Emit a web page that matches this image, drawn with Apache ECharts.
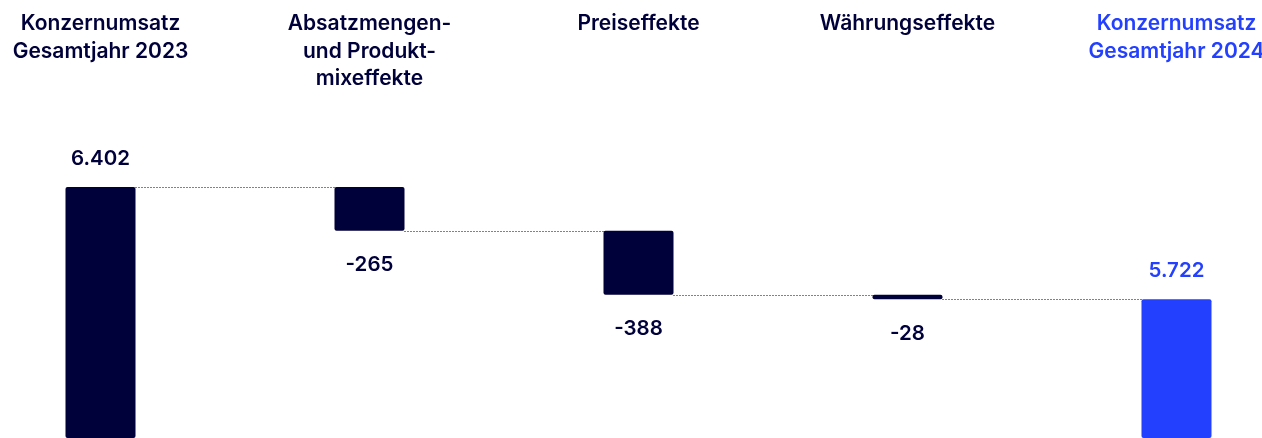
<!DOCTYPE html>
<html>
<head>
<meta charset="utf-8">
<script src="https://cdn.jsdelivr.net/npm/echarts@6/dist/echarts.min.js"></script>
<style>
  html, body { margin: 0; padding: 0; background: #fff; }
  #chart { width: 1262px; height: 438px; }
</style>
</head>
<body>
<div id="chart"></div>
<script>
// Konzernumsatz Brücke 2023 -> 2024 (Mio. EUR)
const categories = [
  'Konzernumsatz\nGesamtjahr 2023',
  'Absatzmengen-\nund Produkt-\nmixeffekte',
  'Preiseffekte',
  'Währungseffekte',
  'Konzernumsatz\nGesamtjahr 2024'
];
const values = [6402, -265, -388, -28, 5722];
const isTotal = [true, false, false, false, true];

const NAVY = '#00003a';
const BLUE = '#2340ff';
const FONT = 'Inter, "Liberation Sans", sans-serif';

// unsichtbare Basis + sichtbarer Teil, Stufen fürs Wasserfall
const base = [], shown = [], levels = [];
let run = 0;
values.forEach((v, i) => {
  if (isTotal[i]) {
    base.push(0); shown.push(v); run = v;
  } else {
    base.push(run + v); shown.push(-v); run = run + v;
  }
  levels.push(run);
});

function fmt(v) {
  const s = Math.abs(v).toString().replace(/\B(?=(\d{3})+(?!\d))/g, '.');
  return (v < 0 ? '-' : '') + s;
}

const chart = echarts.init(document.getElementById('chart'));
chart.setOption({
  animation: false,
  backgroundColor: '#fff',
  grid: { left: -34, right: -49, top: 100, bottom: 0, outerBoundsMode: 'none', containLabel: false },
  xAxis: {
    type: 'category',
    position: 'top',
    data: categories,
    axisLine: { show: false },
    axisTick: { show: false },
    axisLabel: {
      margin: 90,
      verticalAlign: 'top',
      fontFamily: FONT,
      fontWeight: 600,
      fontSize: 21,
      lineHeight: 27.5,
      color: (val, idx) => idx === categories.length - 1 ? BLUE : NAVY
    }
  },
  yAxis: {
    type: 'value',
    min: 4880,
    max: 6930,
    show: false,
    splitLine: { show: false }
  },
  series: [
    {
      type: 'bar',
      stack: 'w',
      silent: true,
      barWidth: 70,
      itemStyle: { color: 'transparent' },
      data: base
    },
    {
      type: 'bar',
      stack: 'w',
      barWidth: 70,
      data: shown.map((v, i) => ({
        value: v,
        itemStyle: {
          color: i === values.length - 1 ? BLUE : NAVY,
          borderRadius: 2
        },
        label: {
          show: true,
          position: isTotal[i] ? 'top' : 'bottom',
          distance: isTotal[i] ? 18 : 24,
          formatter: fmt(values[i]),
          fontFamily: FONT,
          fontWeight: 600,
          fontSize: 20.5,
          color: i === values.length - 1 ? BLUE : NAVY
        }
      }))
    },
    {
      // gepunktete Verbindungslinien zwischen den Balken
      type: 'custom',
      silent: true,
      data: levels.slice(0, -1).map((lv, i) => [i, lv]),
      renderItem: function (params, api) {
        const i = api.value(0);
        const lv = api.value(1);
        const w = api.size([1, 0])[0];
        const p = api.coord([i, lv]);
        const y = Math.round(p[1]) + 0.5;
        return {
          type: 'line',
          shape: { x1: p[0] + 35, y1: y, x2: p[0] + w - 35, y2: y },
          style: { stroke: NAVY, lineWidth: 1, lineDash: [1, 2] }
        };
      }
    }
  ]
});
</script>
</body>
</html>
